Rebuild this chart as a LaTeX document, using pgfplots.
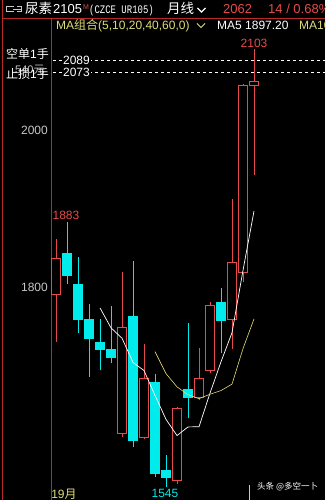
\documentclass[border=0pt]{standalone}
\usepackage{pgfplots}
\pgfplotsset{compat=1.18}
\usepackage{fontspec}
\setmainfont{Liberation Sans}
\newfontfamily\cjk{Noto Sans CJK SC}
\newfontfamily\mono{Liberation Mono}
\definecolor{rd}{RGB}{230,74,74}
\definecolor{cy}{RGB}{0,236,236}
\definecolor{axred}{RGB}{185,40,40}
\definecolor{labgray}{RGB}{200,200,200}
\definecolor{ylw}{RGB}{222,222,120}
\definecolor{ma10}{RGB}{228,220,120}
% body: xleft, xright, bottom, top
\newcommand{\bodyU}[4]{\addplot[draw=rd, fill=black, line width=0.8pt] coordinates {(#1,#3) (#2,#3) (#2,#4) (#1,#4)} --cycle;}
\newcommand{\bodyD}[4]{\addplot[draw=cy, fill=cy, line width=0.8pt] coordinates {(#1,#3) (#2,#3) (#2,#4) (#1,#4)} --cycle;}
\begin{document}
\begin{tikzpicture}
\useasboundingbox (0pt,0pt) rectangle (325pt,500pt);
\fill[black] (0pt,0pt) rectangle (325pt,500pt);
\begin{scope}
\clip (0pt,0pt) rectangle (325pt,500pt);
\begin{axis}[
  at={(51pt,0pt)}, anchor=south west,
  scale only axis, width=274pt, height=482pt,
  xmin=-0.4545, xmax=24.4545, ymin=1528.7, ymax=2142.7,
  axis x line=none, axis y line*=left,
  y axis line style={draw=axred, line width=0.8pt, -},
  xtick=\empty,
  ytick={1800,2000}, yticklabels={1800,2000},
  major tick length=0pt,
  yticklabel style={text=labgray, font=\fontsize{12}{12}\selectfont, inner sep=0pt, xshift=-3pt},
  clip=false, unbounded coords=jump,
]
% reference dashed lines
\draw[white, line width=0.6pt, dash pattern=on 3pt off 3pt] (axis cs:-0.27,2089) -- (axis cs:24.4545,2089);
\draw[white, line width=0.6pt, dash pattern=on 3pt off 3pt] (axis cs:-0.27,2073) -- (axis cs:24.4545,2073);
\node[fill=black, text=white, inner sep=0.8pt, font=\fontsize{12}{12}\selectfont] at (axis cs:1.86,2089) {2089};
\node[fill=black, text=white, inner sep=0.8pt, font=\fontsize{12}{12}\selectfont] at (axis cs:1.86,2073) {2073};
% wicks (low, high)
\addplot[rd, line width=0.8pt] coordinates {(0,1730) (0,1861) (0.5,nan) (6,1609) (6,1819) (6.5,nan) (8,1606) (8,1727) (8.5,nan) (11,1549) (11,1647) (11.5,nan) (13,1656) (13,1722) (13.5,nan) (14,1690) (14,1781) (14.5,nan) (16,1721) (16,1912) (16.5,nan) (17,1806) (17,2059) (17.5,nan) (18,1943) (18,2103)};
\addplot[cy, line width=0.8pt] coordinates {(1,1804) (1,1883) (1.5,nan) (2,1741) (2,1838) (2.5,nan) (3,1685) (3,1778) (3.5,nan) (4,1694) (4,1759) (4.5,nan) (5,1703) (5,1776) (5.5,nan) (7,1596) (7,1833) (7.5,nan) (9,1558) (9,1689) (9.5,nan) (10,1545) (10,1586) (10.5,nan) (12,1633) (12,1754) (12.5,nan) (15,1716) (15,1799)};
% rising bodies (open -> close)
\bodyU{-0.375}{0.375}{1790}{1837}
\bodyU{5.625}{6.375}{1614}{1749}
\bodyU{7.625}{8.375}{1609}{1683}
\bodyU{10.625}{11.375}{1554}{1646}
\bodyU{12.625}{13.375}{1659}{1684}
\bodyU{13.625}{14.375}{1694}{1777}
\bodyU{15.625}{16.375}{1759}{1831}
\bodyU{16.625}{17.375}{1819}{2057}
\bodyU{17.625}{18.375}{2057}{2062}
% falling bodies (close -> open)
\bodyD{0.625}{1.375}{1815}{1843}
\bodyD{1.625}{2.375}{1759}{1803}
\bodyD{2.625}{3.375}{1735}{1759}
\bodyD{3.625}{4.375}{1721}{1730}
\bodyD{4.625}{5.375}{1710}{1721}
\bodyD{6.625}{7.375}{1605}{1762}
\bodyD{8.625}{9.375}{1563}{1679}
\bodyD{9.625}{10.375}{1557}{1567}
\bodyD{11.625}{12.375}{1660}{1670}
\bodyD{14.625}{15.375}{1757}{1780}
% MA5
\addplot[white, line width=0.7pt] coordinates {(4,1773.4) (5,1748.0) (6,1734.8) (7,1704.0) (8,1693.6) (9,1662.0) (10,1631.4) (11,1610.8) (12,1621.8) (13,1622.0) (14,1664.8) (15,1704.8) (16,1741.8) (17,1821.2) (18,1896.8)};
% MA10
\addplot[ma10, line width=0.6pt] coordinates {(9,1717.7) (10,1689.7) (11,1672.8) (12,1662.9) (13,1657.8) (14,1663.4) (15,1668.1) (16,1676.3) (17,1721.5) (18,1759.4)};
\end{axis}
\begin{scope}[x=1pt,y=1pt]
% frame lines
\draw[axred, line width=0.8pt] (2,0) -- (2,500);
\draw[axred, line width=0.8pt] (2,482) -- (325,482);
% header icon
\draw[labgray, line width=0.9pt] (14,493.5) -- (6.5,493.5) -- (6.5,488.5) -- (14,488.5);
\draw[labgray, line width=0.9pt] (13,491) -- (21.5,491) -- (21.5,493.5) -- (17,493.5);
\draw[labgray, line width=0.9pt] (21.5,491) -- (21.5,488.5) -- (17,488.5);
% header text
\node[anchor=base west, inner sep=0pt, text=white, font=\cjk\fontsize{13.5}{13.5}\selectfont] at (25,486) {尿素};
\node[anchor=base west, inner sep=0pt, text=white, font=\fontsize{13}{13}\selectfont] at (53,486) {2105};
\node[anchor=base west, inner sep=0pt, text=rd, font=\fontsize{7}{7}\selectfont] at (83,490) {M};
\node[anchor=base west, inner sep=0pt, text=white, font=\mono\fontsize{11.5}{11.5}\selectfont] at (89,486.5) {\scalebox{0.78}[1]{(CZCE UR105)}};
\node[anchor=base west, inner sep=0pt, text=white, font=\cjk\fontsize{13.5}{13.5}\selectfont] at (167,486) {月线};
\draw[white, line width=1.1pt] (197.5,492) -- (201.5,488) -- (205.5,492);
\node[anchor=base west, inner sep=0pt, text=rd, font=\fontsize{13}{13}\selectfont] at (223,486) {2062};
\node[anchor=base west, inner sep=0pt, text=rd, font=\fontsize{13}{13}\selectfont] at (268,486) {14 / 0.68\%};
% second row
\node[anchor=base west, inner sep=0pt, text=ylw, font=\fontsize{12}{12}\selectfont] at (56,470) {MA{\cjk 组合}(5,10,20,40,60,0)};
\draw[ylw, line width=1pt] (197,476.5) -- (201,472.5) -- (205,476.5);
\node[anchor=base west, inner sep=0pt, text=white, font=\fontsize{12}{12}\selectfont] at (217,470) {MA5 1897.20};
\node[anchor=base west, inner sep=0pt, text=ylw, font=\fontsize{12}{12}\selectfont] at (299,470) {MA10};
% left panel labels
\node[anchor=base west, inner sep=0pt, text=white, font=\fontsize{12}{12}\selectfont] at (6,441) {{\cjk 空单}1{\cjk 手}};
\node[anchor=base west, inner sep=0pt, text=labgray, font=\fontsize{11}{11}\selectfont] at (15,426) {540{\cjk 元}};
\node[anchor=base west, inner sep=0pt, text=white, font=\fontsize{12}{12}\selectfont] at (6,421) {{\cjk 止损}1{\cjk 手}};
% extreme labels
\node[text=rd, inner sep=0pt, font=\fontsize{12}{12}\selectfont] at (254,457) {2103};
\node[text=rd, inner sep=0pt, font=\fontsize{12}{12}\selectfont] at (66,285) {1883};
\node[text=cy, inner sep=0pt, font=\fontsize{12}{12}\selectfont] at (165,7) {1545};
\node[text=ylw, inner sep=0pt, font=\fontsize{12}{12}\selectfont] at (64,6) {19{\cjk 月}};
% watermark
\draw[labgray, line width=0.6pt] (249,0) -- (249,15);
\node[anchor=west, inner sep=0pt, text=white, font=\cjk\fontsize{8.5}{8.5}\selectfont] at (257,13) {头条 @多空一卜};
\end{scope}
\end{scope}
\end{tikzpicture}
\end{document}
